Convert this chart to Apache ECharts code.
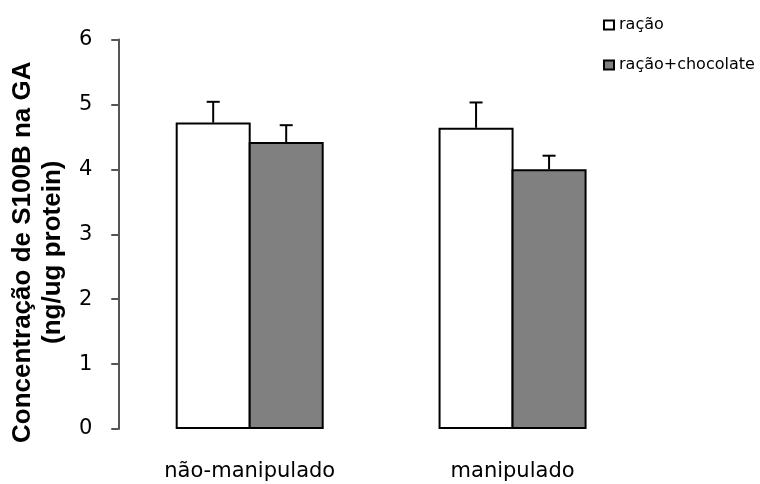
<!DOCTYPE html>
<html>
<head>
<meta charset="utf-8">
<script src="https://cdn.jsdelivr.net/npm/echarts@6/dist/echarts.min.js"></script>
<style>
  html, body { margin: 0; padding: 0; background: #fff; }
  #chart { width: 760px; height: 484px; }
</style>
</head>
<body>
<div id="chart"></div>
<script>
// S100B concentration by group and diet
const categories = ['não-manipulado', 'manipulado'];
const seriesNames = ['ração', 'ração+chocolate'];
const racaoMean = [4.72, 4.64];
const racaoErr = [0.32, 0.39];
const chocolateMean = [4.42, 4.00];
const chocolateErr = [0.26, 0.21];
const yTicks = [0, 1, 2, 3, 4, 5, 6];

const BAR_W = 75;
const OVERLAP = 2;   // adjacent bars share one border line
const labelFont = 'DejaVu Sans';

function errorSeries(name, means, errs, offset) {
  return {
    type: 'custom',
    name: name + ' erro',
    z: 5,
    silent: true,
    data: means.map((m, i) => [i, m, errs[i]]),
    renderItem: function (params, api) {
      const base = api.coord([api.value(0), api.value(1)]);
      const top = api.coord([api.value(0), api.value(1) + api.value(2)]);
      const x = base[0] + offset;
      const half = 6.5;
      const style = { stroke: '#000', lineWidth: 2 };
      return {
        type: 'group',
        children: [
          { type: 'line', shape: { x1: x, y1: base[1], x2: x, y2: top[1] }, style: style },
          { type: 'line', shape: { x1: x - half, y1: top[1], x2: x + half, y2: top[1] }, style: style }
        ]
      };
    }
  };
}

const chart = echarts.init(document.getElementById('chart'));
chart.setOption({
  backgroundColor: '#fff',
  animation: false,
  grid: { left: 116, top: 39.5, width: 528, bottom: 55 },
  legend: {
    data: seriesNames,
    orient: 'vertical',
    left: 603,
    top: 14,
    padding: 0,
    icon: 'rect',
    itemWidth: 10,
    itemHeight: 9,
    itemGap: 18,
    textStyle: { fontFamily: labelFont, fontSize: 16, color: '#000', lineHeight: 16, padding: [6, 0, 0, 0] }
  },
  xAxis: {
    type: 'category',
    data: categories,
    axisLine: { show: false },
    axisTick: { show: false },
    axisLabel: { fontFamily: labelFont, fontSize: 21, color: '#000', margin: 32 }
  },
  yAxis: {
    type: 'value',
    min: 0,
    max: 6,
    interval: 1,
    splitLine: { show: false },
    axisLine: { show: true, lineStyle: { color: '#555555', width: 2 } },
    axisTick: { show: true, length: 7, lineStyle: { color: '#555555', width: 2 } },
    axisLabel: {
      fontFamily: labelFont, fontSize: 21, color: '#000', margin: 26,
      formatter: v => yTicks.includes(v) ? String(v) : ''
    },
    name: 'Concentração de S100B na GA\n(ng/ug protein)',
    nameLocation: 'middle',
    nameGap: 46,
    nameTextStyle: {
      fontFamily: 'Liberation Sans', fontWeight: 'bold', fontSize: 26, lineHeight: 30,
      color: '#000', padding: [0, 36, 0, 0]
    }
  },
  series: [
    {
      name: seriesNames[0], type: 'bar', data: racaoMean, barWidth: BAR_W,
      barGap: (-OVERLAP / BAR_W * 100) + '%',
      itemStyle: { color: '#ffffff', borderColor: '#000', borderWidth: 2 }
    },
    {
      name: seriesNames[1], type: 'bar', data: chocolateMean, barWidth: BAR_W,
      barGap: (-OVERLAP / BAR_W * 100) + '%',
      itemStyle: { color: '#808080', borderColor: '#000', borderWidth: 2 }
    },
    errorSeries(seriesNames[0], racaoMean, racaoErr, -(BAR_W - OVERLAP) / 2),
    errorSeries(seriesNames[1], chocolateMean, chocolateErr, (BAR_W - OVERLAP) / 2)
  ]
});
</script>
</body>
</html>
